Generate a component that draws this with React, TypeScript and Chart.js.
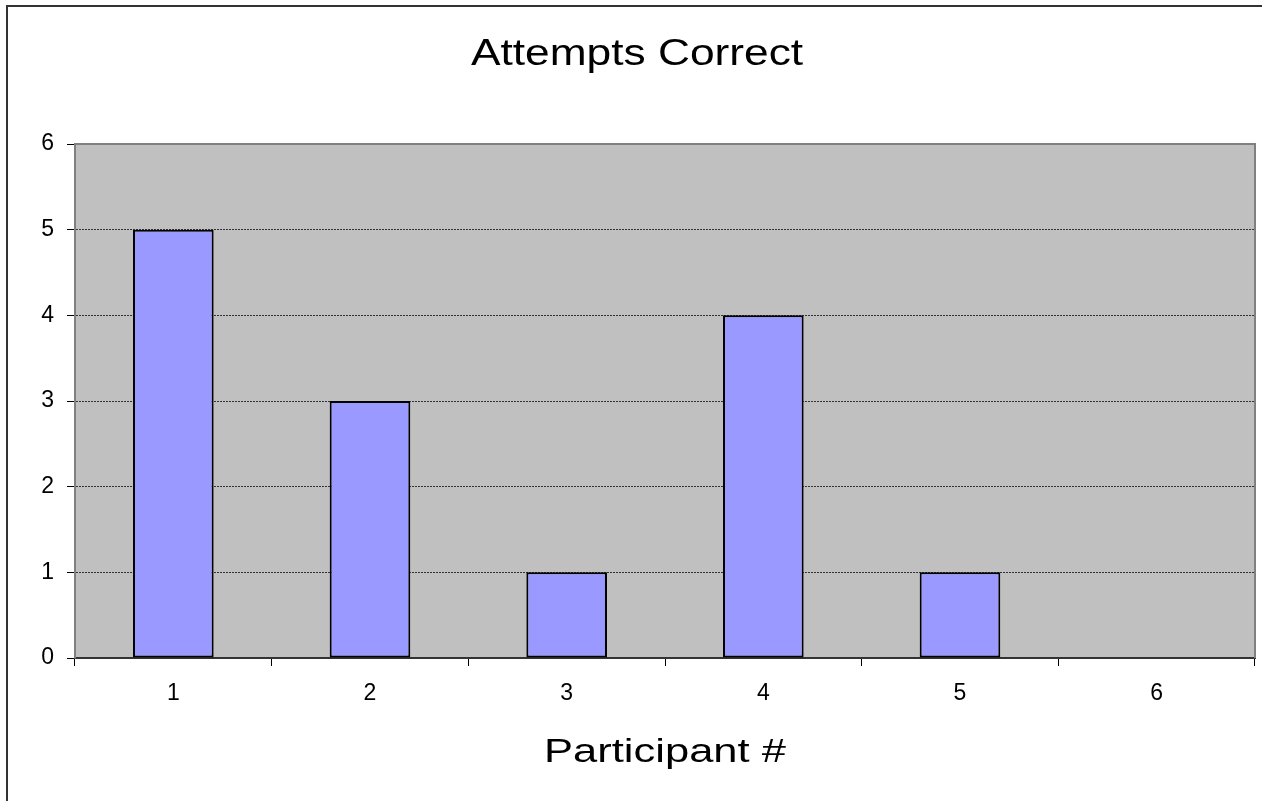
import React, { useEffect, useRef } from "react";
import { Chart, registerables } from "chart.js";

Chart.register(...registerables);

const categories = ["1", "2", "3", "4", "5", "6"];
const attemptsCorrect = [5, 3, 1, 4, 1, 0];
const yTicks = [0, 1, 2, 3, 4, 5, 6];
const chartTitle = "Attempts Correct";
const xAxisTitle = "Participant #";

const FONT = "'Liberation Sans', Arial, Helvetica, sans-serif";

const framePlugin = {
  id: "excelFrame",
  beforeDraw(chart: any) {
    const { ctx, chartArea } = chart;
    ctx.save();
    ctx.fillStyle = "#ffffff";
    ctx.fillRect(0, 0, chart.width, chart.height);
    ctx.fillStyle = "#C0C0C0";
    ctx.fillRect(chartArea.left, chartArea.top, chartArea.right - chartArea.left, chartArea.bottom - chartArea.top);
    ctx.restore();
  },
  afterDatasetsDraw(chart: any) {
    const { ctx, chartArea } = chart;
    ctx.save();
    ctx.strokeStyle = "#808080";
    ctx.lineWidth = 2;
    ctx.beginPath();
    ctx.moveTo(chartArea.left, chartArea.bottom);
    ctx.lineTo(chartArea.left, chartArea.top);
    ctx.lineTo(chartArea.right, chartArea.top);
    ctx.lineTo(chartArea.right, chartArea.bottom);
    ctx.stroke();
    ctx.restore();
  },
  afterDraw(chart: any) {
    const { ctx, chartArea } = chart;
    ctx.save();
    // outer chart border (left and top only visible)
    ctx.fillStyle = "#333333";
    ctx.fillRect(6, 5, 2, chart.height - 5);
    ctx.fillRect(6, 5, chart.width - 6, 2);

    ctx.fillStyle = "#000000";
    ctx.textAlign = "center";
    ctx.textBaseline = "alphabetic";
    // title
    ctx.save();
    ctx.font = `36px ${FONT}`;
    ctx.translate(637, 65);
    ctx.scale(1.23, 1);
    ctx.fillText(chartTitle, 0, 0);
    ctx.restore();
    // x axis title
    ctx.save();
    ctx.font = `34px ${FONT}`;
    ctx.translate((chartArea.left + chartArea.right) / 2, 762);
    ctx.scale(1.28, 1);
    ctx.fillText(xAxisTitle, 0, 0);
    ctx.restore();
    ctx.restore();
  },
};

export default function App() {
  const canvasRef = useRef<HTMLCanvasElement | null>(null);

  useEffect(() => {
    document.body.style.margin = "0";
    const canvas = canvasRef.current;
    if (!canvas) return;
    const chart = new Chart(canvas, {
      type: "bar",
      data: {
        labels: categories,
        datasets: [
          {
            label: chartTitle,
            data: attemptsCorrect,
            backgroundColor: "#9999FF",
            borderColor: "#000000",
            borderWidth: (c: any) => (c.raw === 0 ? 0 : 2),
            borderSkipped: false,
            categoryPercentage: 1,
            barPercentage: 0.41,
          },
        ],
      },
      options: {
        responsive: false,
        animation: false,
        devicePixelRatio: 1,
        layout: { padding: { top: 144, right: 7, left: 0, bottom: 0 } },
        plugins: {
          legend: { display: false },
          title: { display: false },
          tooltip: { enabled: false },
        },
        scales: {
          x: {
            offset: true,
            afterFit: (s: any) => {
              s.height = 143;
            },
            grid: {
              offset: true,
              drawOnChartArea: false,
              drawTicks: true,
              tickLength: 8,
              tickColor: "#000000",
              tickWidth: 1,
            },
            border: { display: true, color: "#333333", width: 2 },
            ticks: {
              color: "#000000",
              font: { family: FONT, size: 23 },
              padding: 14,
              maxRotation: 0,
            },
          },
          y: {
            min: 0,
            max: 6,
            afterFit: (s: any) => {
              s.width = 75;
            },
            afterBuildTicks: (s: any) => {
              s.ticks = yTicks.map((v) => ({ value: v }));
            },
            grid: {
              color: (c: any) =>
                c.tick && (c.tick.value === 0 || c.tick.value === 6) ? "rgba(0,0,0,0)" : "#333333",
              lineWidth: 1,
              drawTicks: true,
              tickLength: 8,
              tickColor: "#000000",
              tickWidth: 1,
              tickBorderDash: [],
            },
            border: { display: true, color: "#555555", width: 2, dash: [2, 1] },
            ticks: {
              stepSize: 1,
              color: "#000000",
              font: { family: FONT, size: 23 },
              padding: 13,
            },
          },
        },
      },
      plugins: [framePlugin],
    } as any);
    return () => chart.destroy();
  }, []);

  return (
    <div style={{ position: "relative", width: 1262, height: 801, background: "#fff" }}>
      <canvas ref={canvasRef} width={1262} height={801} style={{ display: "block", width: 1262, height: 801 }} />
    </div>
  );
}
